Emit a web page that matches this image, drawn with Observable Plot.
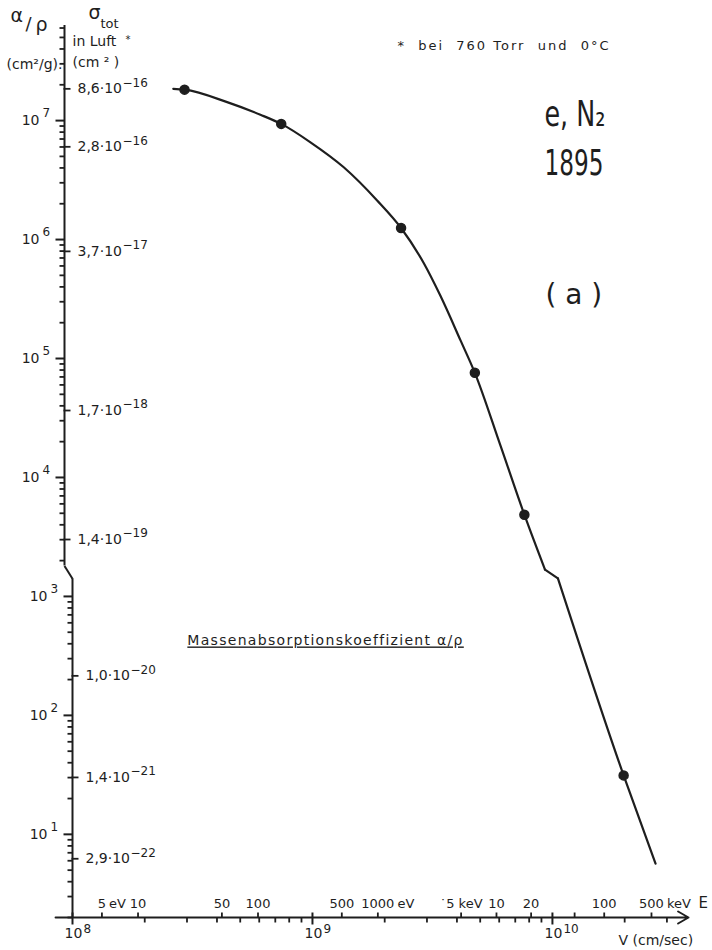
<!DOCTYPE html>
<html><head><meta charset="utf-8">
<script src="https://cdn.jsdelivr.net/npm/d3@7"></script>
<script src="https://cdn.jsdelivr.net/npm/@observablehq/plot@0.6"></script>
<style>
html,body{margin:0;padding:0;background:#fff;}
#chart svg{display:block;}
</style></head><body><div id="chart"></div>
<script>
// ---------- data ----------
// mass absorption coefficient alpha/rho (cm^2/g) versus electron velocity V (cm/sec)
const curveUpperV = [2.63e8, 2.93e8, 4.41e8, 6.07e8, 7.41e8, 9.81e8, 1.35e9, 1.86e9, 2.34e9, 2.90e9, 3.41e9, 4.14e9, 4.75e9, 6.07e9, 7.64e9, 9.31e9];
const curveUpperA = [1.85e7, 1.82e7, 1.43e7, 1.12e7, 9.38e6, 6.57e6, 4.05e6, 2.13e6, 1.25e6, 6.41e5, 3.38e5, 1.42e5, 7.58e4, 1.86e4, 4.86e3, 1.68e3];
const curveLowerV = [1.054e10, 1.98e10, 2.69e10];
const curveLowerA = [1420, 31.3, 5.67];
// measured points
const pointV = [2.93e8, 7.41e8, 2.34e9, 4.75e9, 7.64e9, 1.98e10];
const pointA = [1.82e7, 9.38e6, 1.25e6, 7.58e4, 4.86e3, 31.3];
// y axis (alpha/rho) decades
const yDecades = [1e1, 1e2, 1e3, 1e4, 1e5, 1e6, 1e7];
// sigma_tot labels (cm^2) on the inner side of the y axis
const sigmaMantissa = ["8,6", "2,8", "3,7", "1,7", "1,4", "1,0", "1,4", "2,9"];
const sigmaExponent = [-16, -16, -17, -18, -19, -20, -21, -22];
// x axis (velocity) decades
const vDecades = [1e8, 1e9, 1e10];
// energy scale
const energyEV   = [5, 10, 50, 100, 500, 1000, 5000, 10000, 20000, 100000, 500000];
const energyNum  = ["5", "10", "50", "100", "500", "1000", "˙5", "10", "20", "100", "500"];
const energyUnit = ["eV", "", "", "", "", "eV", "keV", "", "", "", "keV"];
const energyExtraTicksEV = [50000];
// where the scanned sheet is offset (alpha/rho values)
const breakA = [1800, 1410];

// ---------- scales / helpers ----------
const ink = "#1e1e1e";
const W = 712, H = 950, mL = 72, mR = 24, mT = 25, mB = 33;
const vMin = 1e8, vMax = 3.69e10, vLineStart = 8.5e7;
const aMin = 2, aMax = 6.3e7;
const upperShift = 8;
const mN2 = 28.0134 / 6.02214e23;           // g per N2 molecule
const c = 2.9979e10, mc2 = 510999;           // cm/s, eV
const vOfE = E => { const g = 1 + E / mc2; return c * Math.sqrt(1 - 1 / (g * g)); };
const isUp = a => a >= breakA[0];
// pixel lengths of tick marks expressed as factors on the log scales
const pxPerDecX = (W - mL - mR) / Math.log10(vMax / vMin);
const pxPerDecY = (H - mT - mB) / Math.log10(aMax / aMin);
const xAt = px => vMin * 10 ** (px / pxPerDecX);     // px right of the y axis
const yAt = px => aMin * 10 ** (-px / pxPerDecY);    // px below the x axis

const yMinor = [];
for (let e = 0; e <= 7; e++) for (let m = 2; m <= 9; m++) { const v = m * 10 ** e; if (v >= aMin && v <= aMax) yMinor.push(v); }
const vMinor = [];
for (let e = 8; e <= 10; e++) for (let m = 2; m <= 9; m++) { const v = m * 10 ** e; if (v <= vMax) vMinor.push(v); }

const sigma = sigmaMantissa.map((m, i) => ({
  a: parseFloat(m.replace(",", ".")) * 10 ** sigmaExponent[i] / mN2,
  mant: m + "·10",
  exp: "−" + String(-sigmaExponent[i])
}));
const energies = energyEV.map((E, i) => ({v: vOfE(E), num: energyNum[i], unit: energyUnit[i]}));
const energyTicks = energyEV.concat(energyExtraTicksEV).map(vOfE);

const curve = [
  ...curveUpperV.map((v, i) => ({v, a: curveUpperA[i], piece: "upper"})),
  {v: curveUpperV[curveUpperV.length - 1], a: curveUpperA[curveUpperA.length - 1], piece: "break"},
  {v: curveLowerV[0], a: curveLowerA[0], piece: "break"},
  ...curveLowerV.map((v, i) => ({v, a: curveLowerA[i], piece: "lower"}))
];
const points = pointV.map((v, i) => ({v, a: pointA[i]}));

const font = "DejaVu Sans, sans-serif";

// tick marks as links on the plot's scales
function yTicks(list, from, to, shift = 0, width = 1.8) {
  return Plot.link(list, {x1: () => xAt(from), x2: () => xAt(to), y1: d => d, y2: d => d, dx: -shift, stroke: ink, strokeWidth: width});
}
function xTicks(list, from, to, width = 1.8) {
  return Plot.link(list, {x1: d => d, x2: d => d, y1: () => yAt(from), y2: () => yAt(to), stroke: ink, strokeWidth: width});
}

function yLabelMarks(list, shift) {
  return [
    Plot.text(list, {y: d => d, text: () => "10", frameAnchor: "left", textAnchor: "end", dx: -25 - shift, fontSize: 14, fill: ink}),
    Plot.text(list, {y: d => d, text: d => String(Math.round(Math.log10(d))), frameAnchor: "left", textAnchor: "start", dx: -22 - shift, dy: -7, fontSize: 12, fill: ink})
  ];
}
function sigmaMarks(list, shift) {
  return [
    yTicks(list.map(d => d.a), -1, 6, shift, 1.8),
    Plot.text(list, {y: "a", text: "mant", frameAnchor: "left", textAnchor: "start", dx: 13 - shift, fontSize: 14, fill: ink}),
    Plot.text(list, {y: "a", text: "exp", frameAnchor: "left", textAnchor: "start", dx: 58 - shift, dy: -6, fontSize: 12, fill: ink})
  ];
}
// energy labels: number centred on its tick, unit following;
// the footnote-dotted label is centred as a whole
const dotted = d => d.num.startsWith("˙");
const eSize = 13, eDigit = 0.636 * eSize;
const unitGroups = d3.groups(energies.filter(d => d.unit && !dotted(d)), d => d.num.length);
const energyMarks = [
  Plot.text(energies.filter(d => !dotted(d)), {x: "v", text: "num", frameAnchor: "bottom", lineAnchor: "bottom", dy: -10, fontSize: eSize, fill: ink}),
  ...unitGroups.map(([len, list]) =>
    Plot.text(list, {x: "v", text: "unit", frameAnchor: "bottom", textAnchor: "start", lineAnchor: "bottom", dx: len * eDigit / 2 + 3, dy: -10, fontSize: eSize, fill: ink})),
  Plot.text(energies.filter(dotted), {x: "v", text: d => d.num + " " + d.unit, frameAnchor: "bottom", lineAnchor: "bottom", dy: -10, fontSize: eSize, fill: ink})
];

const chart = Plot.plot({
  width: W, height: H,
  marginLeft: mL, marginRight: mR, marginTop: mT, marginBottom: mB,
  style: {fontFamily: font, color: ink, background: "#fff"},
  x: {type: "log", domain: [vMin, vMax], axis: null},
  y: {type: "log", domain: [aMin, aMax], axis: null},
  marks: [
    // axis lines (the upper sheet of the scan sits a little to the left)
    Plot.ruleX([vMin], {x: d => d, y1: aMin, y2: breakA[1], stroke: ink, strokeWidth: 2}),
    Plot.ruleX([vMin], {x: d => d, y1: breakA[0], y2: aMax, dx: -upperShift, stroke: ink, strokeWidth: 2}),
    Plot.link([0], {x1: () => xAt(-upperShift), x2: () => vMin, y1: () => breakA[0], y2: () => breakA[1], stroke: ink, strokeWidth: 2}),
    Plot.arrow([0], {x1: vLineStart, x2: vMax, y1: aMin, y2: aMin, stroke: ink, strokeWidth: 2, headLength: 9}),
    // y ticks
    yTicks(yDecades.filter(d => !isUp(d)), -9, 0, 0, 2),
    yTicks(yDecades.filter(isUp), -9, 0, upperShift, 2),
    yTicks(yMinor.filter(d => !isUp(d)), -5, 0, 0, 1.8),
    yTicks(yMinor.filter(isUp), -5, 0, upperShift, 1.8),
    ...yLabelMarks(yDecades.filter(d => !isUp(d)), 0),
    ...yLabelMarks(yDecades.filter(isUp), upperShift),
    ...sigmaMarks(sigma.filter(d => !isUp(d.a)), 0),
    ...sigmaMarks(sigma.filter(d => isUp(d.a)), upperShift),
    // x ticks
    xTicks(vMinor, 0, 5, 1.8),
    xTicks(vDecades, -5, 7, 2),
    xTicks(energyTicks, -5, 0, 1.8),
    // x labels
    Plot.text(vDecades, {x: d => d, text: () => "10", frameAnchor: "bottom", lineAnchor: "top", dy: 11, dx: 1, fontSize: 14, fill: ink}),
    Plot.text(vDecades, {x: d => d, text: d => String(Math.round(Math.log10(d))), frameAnchor: "bottom", textAnchor: "start", lineAnchor: "top", dx: 11, dy: 7, fontSize: 12, fill: ink}),
    ...energyMarks,
    Plot.text(["E"], {frameAnchor: "bottom-right", textAnchor: "start", lineAnchor: "bottom", dx: 10, dy: -10, fontSize: 15, fill: ink}),
    Plot.text(["V (cm/sec)"], {frameAnchor: "bottom-right", textAnchor: "start", lineAnchor: "bottom", dx: -70, dy: 27, fontSize: 14, fill: ink}),
    // axis titles (top left)
    Plot.text(["α"], {frameAnchor: "top-left", textAnchor: "start", lineAnchor: "bottom", dx: -62, dy: -4, fontSize: 19, fill: ink}),
    Plot.text(["/"], {frameAnchor: "top-left", textAnchor: "start", lineAnchor: "bottom", dx: -47, dy: 4, fontSize: 18, fill: ink}),
    Plot.text(["ρ"], {frameAnchor: "top-left", textAnchor: "start", lineAnchor: "bottom", dx: -37, dy: 5, fontSize: 19, fill: ink}),
    Plot.text(["(cm²/g)."], {frameAnchor: "top-left", textAnchor: "start", lineAnchor: "bottom", dx: -66, dy: 43, fontSize: 14, fill: ink}),
    Plot.text(["σ"], {frameAnchor: "top-left", textAnchor: "start", lineAnchor: "bottom", dx: 16, dy: -7, fontSize: 19, fill: ink}),
    Plot.text(["tot"], {frameAnchor: "top-left", textAnchor: "start", lineAnchor: "bottom", dx: 28, dy: 2, fontSize: 13, fill: ink}),
    Plot.text(["in Luft"], {frameAnchor: "top-left", textAnchor: "start", lineAnchor: "bottom", dx: 0, dy: 20, fontSize: 14, fill: ink}),
    Plot.text(["*"], {frameAnchor: "top-left", textAnchor: "start", lineAnchor: "bottom", dx: 53, dy: 17, fontSize: 10, fill: ink}),
    Plot.text(["(cm ² )"], {frameAnchor: "top-left", textAnchor: "start", lineAnchor: "bottom", dx: 0, dy: 41, fontSize: 14, fill: ink}),
    // annotations
    Plot.text(["*\u00a0\u00a0bei\u00a0\u00a0760\u00a0Torr\u00a0\u00a0und\u00a0\u00a00°C"], {x: 2.26e9, y: 3.95e7, textAnchor: "start", lineAnchor: "bottom", fontSize: 13, fill: ink}),
    Plot.text(["e, N₂"], {x: 9.26e9, y: 9.08e6, textAnchor: "start", lineAnchor: "bottom", fontSize: 36, fill: ink}),
    Plot.text(["1895"], {x: 9.26e9, y: 3.51e6, textAnchor: "start", lineAnchor: "bottom", fontSize: 36, fill: ink}),
    Plot.text(["(\u00a0a\u00a0)"], {x: 9.35e9, y: 2.85e5, textAnchor: "start", lineAnchor: "bottom", fontSize: 28, fill: ink}),
    Plot.text(["Massenabsorptionskoeffizient α/ρ"], {x: 3.01e8, y: 387, textAnchor: "start", lineAnchor: "bottom", fontSize: 14, fill: ink}),
    // curve and points
    Plot.line(curve.filter(d => d.piece === "upper"), {x: "v", y: "a", curve: "monotone-x", stroke: ink, strokeWidth: 2.2}),
    Plot.line(curve.filter(d => d.piece === "break"), {x: "v", y: "a", stroke: ink, strokeWidth: 2.2}),
    Plot.line(curve.filter(d => d.piece === "lower"), {x: "v", y: "a", curve: "monotone-x", stroke: ink, strokeWidth: 2.2}),
    Plot.dot(points, {x: "v", y: "a", r: 4.5, fill: ink, stroke: ink})
  ]
});

// typographic touches of the original lettering
chart.querySelectorAll("text").forEach(t => {
  const s = t.textContent;
  if (s.startsWith("Massenabsorption")) { t.style.textDecoration = "underline"; t.style.letterSpacing = "1.3px"; }
  if (s.includes("Torr")) t.style.letterSpacing = "2px";
  if (s === "e, N₂") { t.setAttribute("textLength", 61); t.setAttribute("lengthAdjust", "spacingAndGlyphs"); }
  if (s === "1895") { t.setAttribute("textLength", 59); t.setAttribute("lengthAdjust", "spacingAndGlyphs"); }
});
document.getElementById("chart").appendChild(chart);
</script>
</body></html>
